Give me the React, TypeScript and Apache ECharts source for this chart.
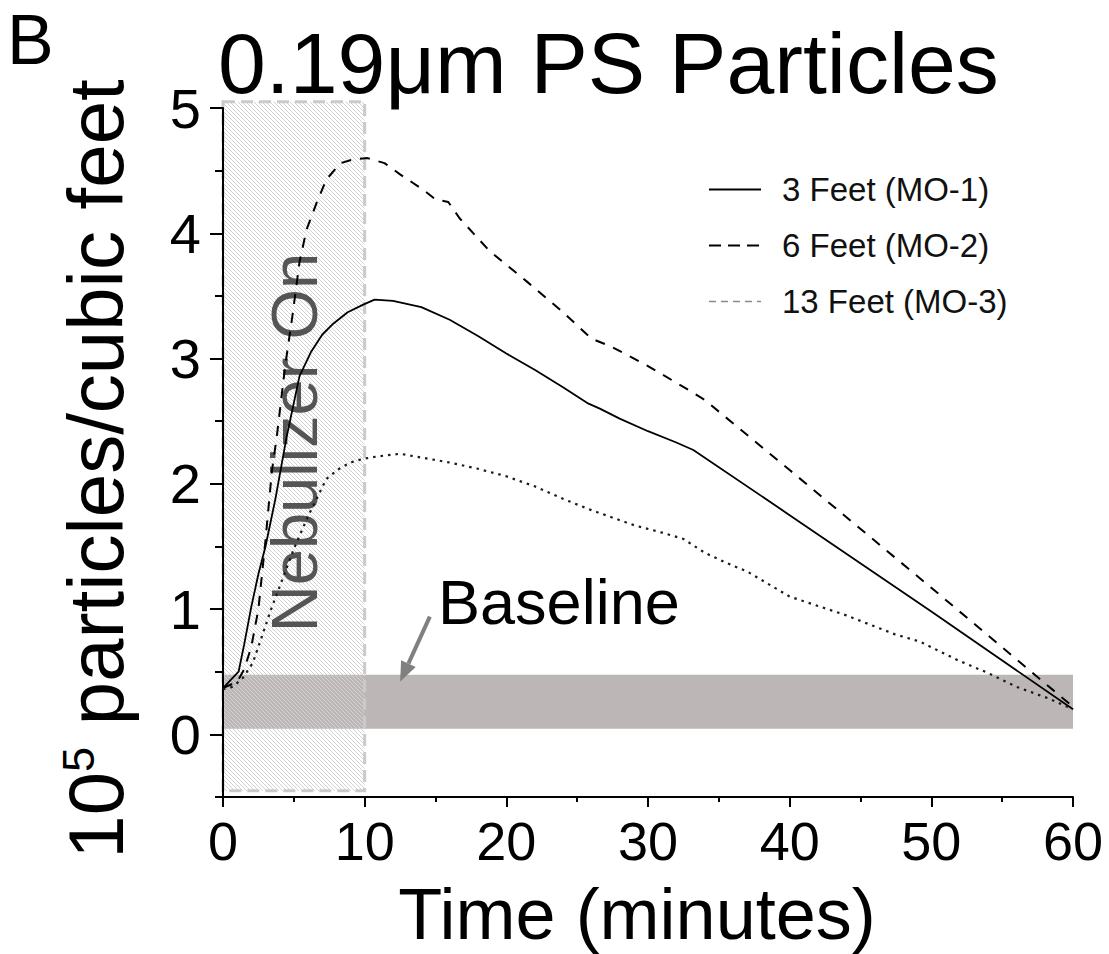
import React, { useEffect, useRef } from 'react';
import * as echarts from 'echarts';

const FONT = '"Liberation Sans", Arial, Helvetica, sans-serif';

const seriesNames = ['3 Feet (MO-1)', '6 Feet (MO-2)', '13 Feet (MO-3)'];
const xTicks = [0, 10, 20, 30, 40, 50, 60];
const yTicks = [0, 1, 2, 3, 4, 5];

// 3 Feet (MO-1) — solid
const t3 = [0, 1.1, 1.5, 2, 2.5, 3, 3.7, 4.5, 5.4, 6.2, 7, 7.8, 8.8, 9.9, 10.7, 12, 14, 16, 18, 20, 22, 24, 25.8, 26.6, 28, 30, 32, 33.2, 40, 50, 60];
const v3 = [0.37, 0.5, 0.72, 1.02, 1.28, 1.5, 1.88, 2.38, 2.86, 3.05, 3.19, 3.28, 3.37, 3.43, 3.47, 3.46, 3.41, 3.31, 3.18, 3.04, 2.91, 2.77, 2.64, 2.6, 2.52, 2.42, 2.33, 2.27, 1.75, 0.98, 0.2];

// 6 Feet (MO-2) — dashed
const t6 = [0, 1, 1.5, 2, 2.5, 3, 3.45, 3.8, 4.0, 4.4, 4.9, 5.4, 5.9, 6.6, 7.3, 8.3, 9.2, 10.2, 11.4, 12.5, 14.1, 15.0, 15.9, 16.7, 18.8, 21.5, 24, 26, 27.5, 30, 33, 34, 40, 50, 60];
const v6 = [0.37, 0.42, 0.52, 0.7, 1.0, 1.55, 2.1, 2.38, 2.57, 2.95, 3.34, 3.77, 4.03, 4.24, 4.43, 4.56, 4.59, 4.6, 4.56, 4.47, 4.35, 4.27, 4.25, 4.12, 3.86, 3.61, 3.37, 3.16, 3.09, 2.94, 2.74, 2.67, 2.11, 1.17, 0.22];

// 13 Feet (MO-3) — dotted
const t13 = [0, 0.7, 1.4, 2.1, 2.8, 3.4, 4.2, 5, 6, 7.3, 8.2, 9, 9.9, 11, 12.5, 14, 16, 18, 20, 22, 24, 26, 27, 29, 31, 32.5, 34, 35.5, 37, 40, 44, 47.4, 49.2, 51.9, 54, 56, 58.2, 60];
const v13 = [0.36, 0.38, 0.45, 0.57, 0.8, 1.0, 1.24, 1.48, 1.74, 2.04, 2.12, 2.17, 2.2, 2.22, 2.24, 2.21, 2.17, 2.12, 2.06, 1.98, 1.88, 1.79, 1.75, 1.67, 1.61, 1.56, 1.45, 1.37, 1.3, 1.1, 0.95, 0.8, 0.74, 0.59, 0.49, 0.38, 0.29, 0.2];

// annotation regions (data units)
const nebulizerX = [0, 10];
const nebulizerY = [-0.45, 5.05];
const baselineX = [0, 60];
const baselineY = [0.045, 0.475];
const arrowFrom = [14.6, 0.94];
const arrowTo = [12.5, 0.42];
const baselineLabelAt = [15.18, 1.06];
const nebulizerLabelAt = [5.08, 2.33];

const zip = (t: number[], v: number[]) => t.map((x, i) => [x, v[i]]);

export default function App() {
  const ref = useRef<HTMLDivElement>(null);
  useEffect(() => {
    if (!ref.current) return;
    const prevMargin = document.body.style.margin;
    document.body.style.margin = '0';
    const chart = echarts.init(ref.current, null, { renderer: 'svg' });

    const hideSym = { opacity: 0 };
    const option: any = {
      animation: false,
      backgroundColor: '#ffffff',
      textStyle: { fontFamily: FONT },
      grid: { left: 223, right: 36, top: 108, bottom: 157, containLabel: false },
      legend: {
        orient: 'vertical',
        left: 703,
        top: 168,
        itemWidth: 52,
        itemHeight: 14,
        itemGap: 23,
        selectedMode: false,
        textStyle: { fontFamily: FONT, fontSize: 33, color: '#111', padding: [0, 0, 0, 16] },
        data: [
          { name: seriesNames[0], itemStyle: hideSym, lineStyle: { color: '#000', width: 1.8, type: 'solid' } },
          { name: seriesNames[1], itemStyle: hideSym, lineStyle: { color: '#000', width: 2, type: [12, 7] } },
          { name: seriesNames[2], itemStyle: hideSym, lineStyle: { color: '#8a8a8a', width: 1.3, type: [7, 5] } },
        ],
      },
      xAxis: {
        type: 'value',
        min: 0,
        max: 60,
        interval: 10,
        z: 6,
        axisLine: { show: true, onZero: false, lineStyle: { color: '#000', width: 2 } },
        axisTick: { show: true, length: 10, lineStyle: { color: '#000', width: 2 } },
        minorTick: { show: true, splitNumber: 2, length: 5, lineStyle: { color: '#000', width: 2 } },
        axisLabel: {
          fontSize: 54, color: '#000', fontFamily: FONT, margin: 17,
          formatter: (v: number) => (xTicks.includes(v) ? String(v) : ''),
        },
        splitLine: { show: false },
      },
      yAxis: [
        {
          type: 'value',
          min: -0.5,
          max: 5,
          z: 6,
          axisLine: { show: true, onZero: false, lineStyle: { color: '#000', width: 2 } },
          axisTick: { show: true, length: 13, customValues: yTicks, lineStyle: { color: '#000', width: 2 } },
          axisLabel: { fontSize: 56, color: '#000', fontFamily: FONT, margin: 22, customValues: yTicks },
          splitLine: { show: false },
        },
        {
          type: 'value',
          position: 'left',
          min: -0.5,
          max: 5,
          interval: 0.5,
          z: 6,
          axisLine: { show: false, onZero: false },
          axisTick: { show: true, length: 8, lineStyle: { color: '#000', width: 2 } },
          axisLabel: { show: false },
          splitLine: { show: false },
        },
      ],
      series: [
        {
          name: seriesNames[0], type: 'line', z: 10, yAxisIndex: 0,
          data: zip(t3, v3), showSymbol: false, symbol: 'none',
          lineStyle: { color: '#000', width: 1.8, type: 'solid' },
          itemStyle: { color: '#000' },
        },
        {
          name: seriesNames[1], type: 'line', z: 10, yAxisIndex: 0,
          data: zip(t6, v6), showSymbol: false, symbol: 'none',
          lineStyle: { color: '#000', width: 2, type: [10, 9] },
          itemStyle: { color: '#000' },
        },
        {
          name: seriesNames[2], type: 'line', z: 10, yAxisIndex: 0,
          data: zip(t13, v13), showSymbol: false, symbol: 'none',
          lineStyle: { color: '#1a1a1a', width: 2.2, type: [2.5, 5] },
          itemStyle: { color: '#1a1a1a' },
        },
      ],
    };
    chart.setOption(option);

    const p = (x: number, y: number) => chart.convertToPixel({ seriesIndex: 0 }, [x, y]) as number[];

    // hatch pattern
    const c = document.createElement('canvas');
    c.width = 4; c.height = 4;
    const g = c.getContext('2d')!;
    g.strokeStyle = '#d2d2d2';
    g.lineWidth = 1;
    g.beginPath();
    g.moveTo(-1, -1); g.lineTo(5, 5);
    g.moveTo(3, -1); g.lineTo(5, 1);
    g.moveTo(-1, 3); g.lineTo(1, 5);
    g.stroke();

    const b0 = p(baselineX[0], baselineY[1]);
    const b1 = p(baselineX[1], baselineY[0]);
    const n0 = p(nebulizerX[0], nebulizerY[1]);
    const n1 = p(nebulizerX[1], nebulizerY[0]);
    const a0 = p(arrowFrom[0], arrowFrom[1]);
    const a1 = p(arrowTo[0], arrowTo[1]);
    const dx = a1[0] - a0[0], dy = a1[1] - a0[1];
    const len = Math.hypot(dx, dy);
    const ux = dx / len, uy = dy / len;
    const headL = 20, headW = 8;
    const hb = [a1[0] - ux * headL, a1[1] - uy * headL];
    const bl = p(baselineLabelAt[0], baselineLabelAt[1]);
    const nl = p(nebulizerLabelAt[0], nebulizerLabelAt[1]);

    chart.setOption({
      graphic: {
        elements: [
          {
            type: 'rect', z: 1, silent: true,
            shape: { x: b0[0], y: b0[1], width: b1[0] - b0[0], height: b1[1] - b0[1] },
            style: { fill: '#bdb6b6' },
          },
          {
            type: 'rect', z: 2, silent: true,
            shape: { x: n0[0], y: n0[1], width: n1[0] - n0[0], height: n1[1] - n0[1] },
            style: {
              fill: { image: c, repeat: 'repeat' } as any,
              stroke: '#cacaca', lineWidth: 3, lineDash: [12, 6],
            },
          },
          {
            type: 'text', z: 3, silent: true,
            x: nl[0], y: nl[1], rotation: Math.PI / 2,
            style: {
              text: 'Nebulizer On', fill: '#555555', font: `65px ${FONT}`,
              align: 'center', verticalAlign: 'middle',
            },
          },
          {
            type: 'text', z: 3, silent: true,
            x: bl[0], y: bl[1],
            style: {
              text: 'Baseline', fill: '#000', font: `63px ${FONT}`,
              align: 'left', verticalAlign: 'middle',
            },
          },
          {
            type: 'line', z: 3, silent: true,
            shape: { x1: a0[0], y1: a0[1], x2: hb[0], y2: hb[1] },
            style: { stroke: '#808080', lineWidth: 4 },
          },
          {
            type: 'polygon', z: 3, silent: true,
            shape: {
              points: [
                [a1[0], a1[1]],
                [hb[0] - uy * headW, hb[1] + ux * headW],
                [hb[0] + uy * headW, hb[1] - ux * headW],
              ],
            },
            style: { fill: '#808080' },
          },
          {
            type: 'text', z: 5, silent: true,
            x: 218, y: 62.5,
            style: {
              text: '0.19\u03bcm PS Particles', fill: '#000', font: `86px ${FONT}`,
              align: 'left', verticalAlign: 'middle',
            },
          },
          {
            type: 'text', z: 5, silent: true,
            x: 7, y: 40,
            style: {
              text: 'B', fill: '#000', font: `70px ${FONT}`,
              align: 'left', verticalAlign: 'middle',
            },
          },
          {
            type: 'text', z: 5, silent: true,
            x: 637, y: 914,
            style: {
              text: 'Time (minutes)', fill: '#000', font: `72px ${FONT}`,
              align: 'center', verticalAlign: 'middle',
            },
          },
          {
            type: 'text', z: 5, silent: true,
            x: 96, y: 469, rotation: Math.PI / 2,
            style: {
              text: '{a|10}{s|5}{a| particles/cubic feet}',
              align: 'center', verticalAlign: 'middle',
              rich: {
                a: { fontSize: 78, fontFamily: FONT, fill: '#000', color: '#000', lineHeight: 80 },
                s: { fontSize: 45, fontFamily: FONT, fill: '#000', color: '#000', verticalAlign: 'top', lineHeight: 45 },
              },
            },
          },
        ],
      },
    });

    return () => {
      chart.dispose();
      document.body.style.margin = prevMargin;
    };
  }, []);
  return <div ref={ref} style={{ width: 1109, height: 954 }} />;
}
